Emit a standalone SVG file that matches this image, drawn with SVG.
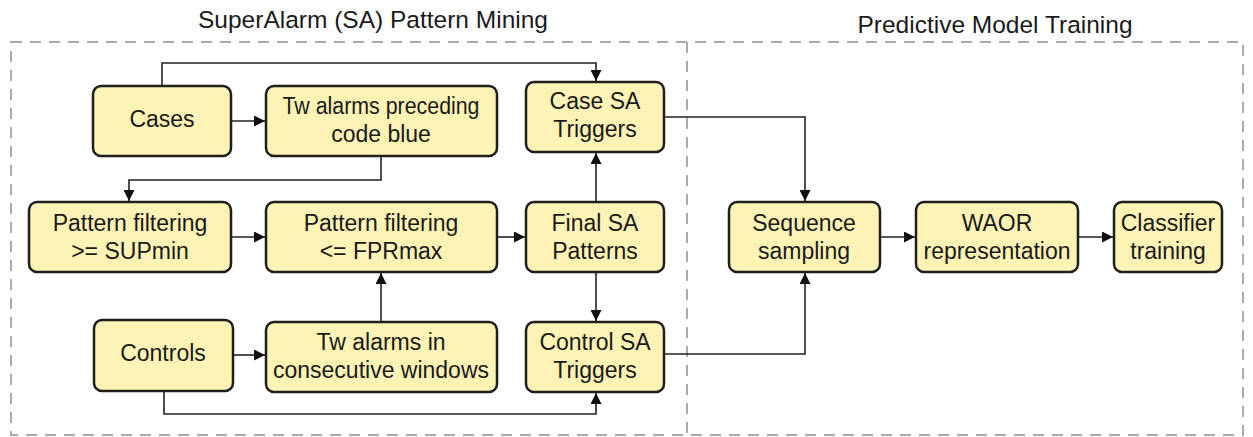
<svg xmlns="http://www.w3.org/2000/svg" width="1253" height="437" viewBox="0 0 1253 437">
<style>
.box{fill:#FDF3B4;stroke:#1e1e1e;stroke-width:2.5}
.t{font-family:"Liberation Sans",Arial,sans-serif;font-size:23px;fill:#1a1a1a;text-anchor:middle}
.title{font-family:"Liberation Sans",Arial,sans-serif;font-size:24.5px;fill:#1a1a1a;text-anchor:middle}
.c{fill:none;stroke:#222;stroke-width:1.6}
.dash{fill:none;stroke:#aaaaaa;stroke-width:2;stroke-dasharray:11 8}
</style>
<defs>
<marker id="ah" viewBox="0 0 10 10" refX="10" refY="5" markerWidth="11" markerHeight="11" markerUnits="userSpaceOnUse" orient="auto">
<path d="M0,0 L10,5 L0,10 z" fill="#111"/>
</marker>
</defs>
<rect width="1253" height="437" fill="#ffffff"/>
<g id="frames">
<rect class="dash" x="11" y="42" width="1232" height="393"/>
<line class="dash" x1="687" y1="42" x2="687" y2="435"/>
<text class="title" x="373" y="28">SuperAlarm (SA) Pattern Mining</text>
<text class="title" x="995" y="33">Predictive Model Training</text>
</g>
<g id="connectors">
<path class="c" d="M162,86 V63 H596 V81" marker-end="url(#ah)"/>
<path class="c" d="M231,121 H265" marker-end="url(#ah)"/>
<path class="c" d="M381,156 V180 H129 V201" marker-end="url(#ah)"/>
<path class="c" d="M231,237 H265" marker-end="url(#ah)"/>
<path class="c" d="M497,237 H525" marker-end="url(#ah)"/>
<path class="c" d="M596,202 V153" marker-end="url(#ah)"/>
<path class="c" d="M596,272 V321" marker-end="url(#ah)"/>
<path class="c" d="M381,322 V273" marker-end="url(#ah)"/>
<path class="c" d="M233,355 H265" marker-end="url(#ah)"/>
<path class="c" d="M164,391 V414 H596 V393" marker-end="url(#ah)"/>
<path class="c" d="M664,117 H805 V201" marker-end="url(#ah)"/>
<path class="c" d="M664,354 H805 V273" marker-end="url(#ah)"/>
<path class="c" d="M880,237 H915" marker-end="url(#ah)"/>
<path class="c" d="M1078,237 H1113" marker-end="url(#ah)"/>
</g>
<g id="cases">
<rect class="box" x="93" y="86" width="138" height="70" rx="8"/>
<text class="t" x="162" y="127">Cases</text>
</g>
<g id="tw-preceding">
<rect class="box" x="266" y="86" width="231" height="70" rx="8"/>
<text class="t" x="381" y="114" textLength="197" lengthAdjust="spacingAndGlyphs">Tw alarms preceding</text>
<text class="t" x="381" y="142">code blue</text>
</g>
<g id="case-sa-triggers">
<rect class="box" x="526" y="82" width="138" height="70" rx="8"/>
<text class="t" x="595" y="109">Case SA</text>
<text class="t" x="595" y="137">Triggers</text>
</g>
<g id="filter-sup">
<rect class="box" x="29" y="202" width="202" height="70" rx="8"/>
<text class="t" x="130" y="231">Pattern filtering</text>
<text class="t" x="130" y="259">&gt;= SUPmin</text>
</g>
<g id="filter-fpr">
<rect class="box" x="266" y="202" width="231" height="70" rx="8"/>
<text class="t" x="381" y="231">Pattern filtering</text>
<text class="t" x="381" y="259">&lt;= FPRmax</text>
</g>
<g id="final-sa">
<rect class="box" x="526" y="202" width="138" height="70" rx="8"/>
<text class="t" x="595" y="231">Final SA</text>
<text class="t" x="595" y="259">Patterns</text>
</g>
<g id="controls">
<rect class="box" x="94" y="320" width="139" height="71" rx="8"/>
<text class="t" x="163" y="361">Controls</text>
</g>
<g id="tw-consecutive">
<rect class="box" x="266" y="322" width="231" height="70" rx="8"/>
<text class="t" x="381" y="350">Tw alarms in</text>
<text class="t" x="381" y="378">consecutive windows</text>
</g>
<g id="control-sa-triggers">
<rect class="box" x="526" y="322" width="138" height="70" rx="8"/>
<text class="t" x="595" y="350">Control SA</text>
<text class="t" x="595" y="378">Triggers</text>
</g>
<g id="sequence-sampling">
<rect class="box" x="729" y="202" width="151" height="70" rx="8"/>
<text class="t" x="804" y="231">Sequence</text>
<text class="t" x="804" y="259">sampling</text>
</g>
<g id="waor">
<rect class="box" x="916" y="202" width="162" height="70" rx="8"/>
<text class="t" x="997" y="231">WAOR</text>
<text class="t" x="997" y="259">representation</text>
</g>
<g id="classifier">
<rect class="box" x="1114" y="202" width="108" height="70" rx="8"/>
<text class="t" x="1168" y="231">Classifier</text>
<text class="t" x="1168" y="259">training</text>
</g>
</svg>
